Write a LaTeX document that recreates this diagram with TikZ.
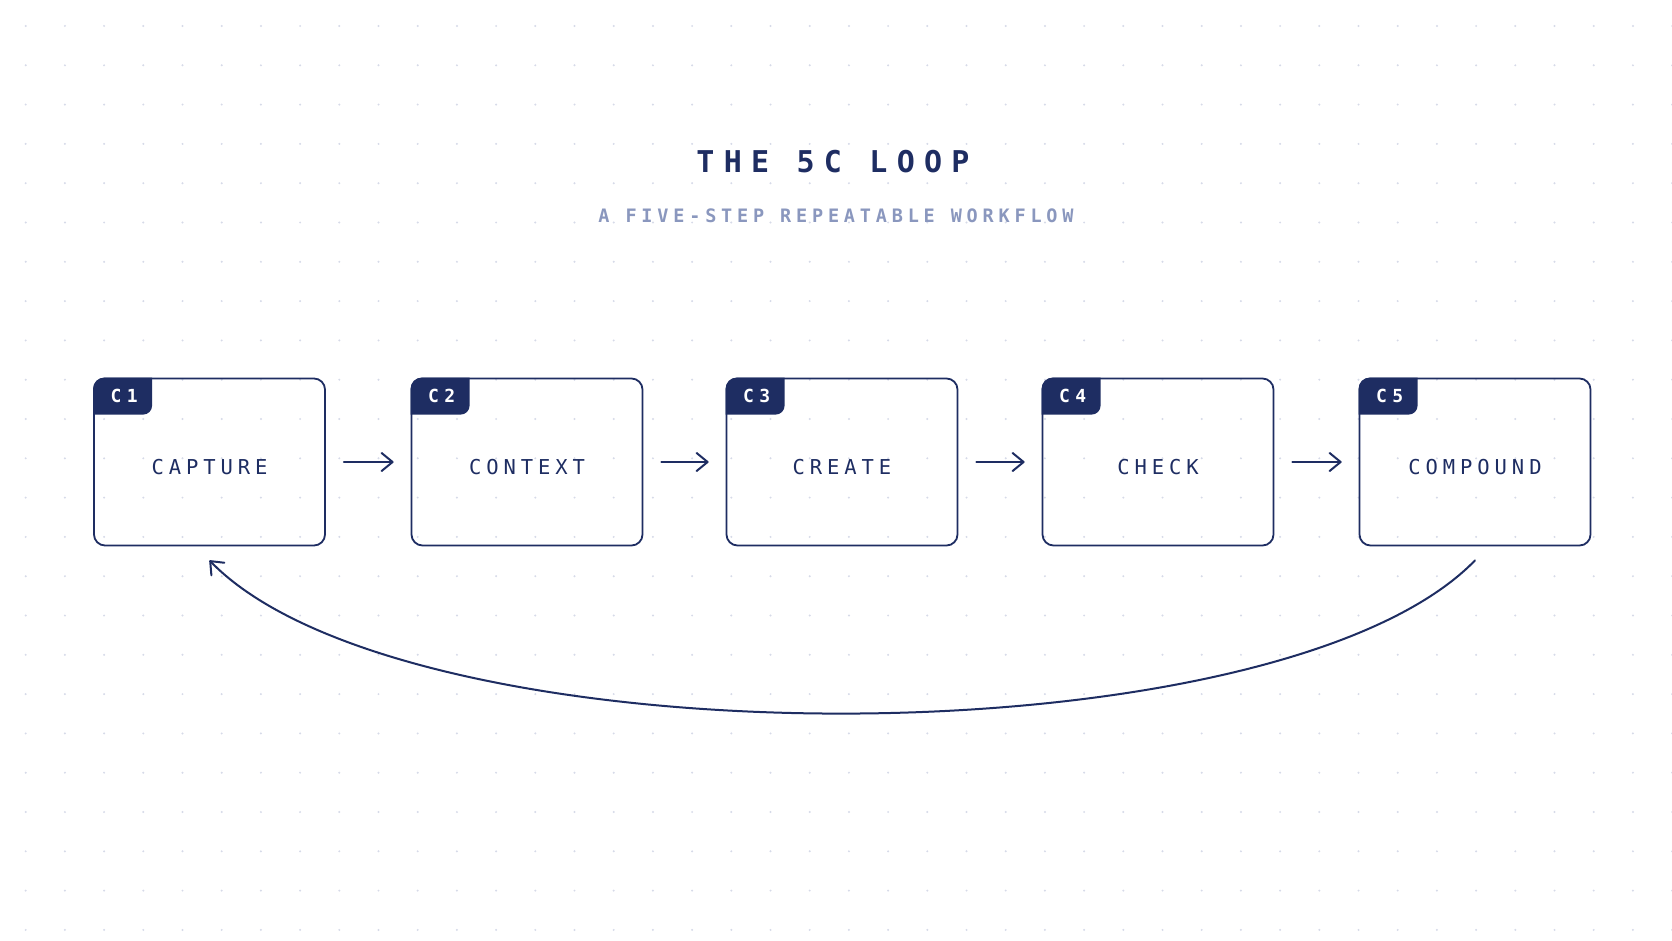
\documentclass[tikz,border=0pt]{standalone}
\usepackage{fontspec}
\usepackage{tikz}
\usetikzlibrary{arrows.meta,calc}
\setmonofont{DejaVu Sans Mono}
\newfontfamily\TitleMono[LetterSpace=31]{DejaVu Sans Mono}
\newfontfamily\SubMono[LetterSpace=26]{DejaVu Sans Mono}
\newfontfamily\CardMono[LetterSpace=24]{DejaVu Sans Mono}
\newfontfamily\TagMono[LetterSpace=30]{DejaVu Sans Mono}
\definecolor{Ink}{HTML}{1E2D62}
\definecolor{Mist}{HTML}{8A97BE}
\definecolor{Dot}{HTML}{D6DAE8}
\newcommand{\StepCard}[4]{%
  \node[card] (#1) at (#2,462) {#4};%
  \begin{scope}
    \clip[rounded corners=11pt] (#1.north west) rectangle (#1.south east);
    \fill[Ink,rounded corners=9pt] ([shift={(-20,-20)}]#1.north west) rectangle ++(79,57);
  \end{scope}
  \node[tagbox] (#1tag) at ([shift={(31,25)}]#1.north west) {#3};%
}

\begin{document}
\begin{tikzpicture}[x=1pt,y=-1pt,
  card/.style={draw=Ink,line width=1.8pt,rounded corners=11pt,minimum width=231pt,
    minimum height=167pt,inner sep=0pt,text=Ink,text height=24pt,text depth=0pt,
    font=\CardMono\fontsize{20.5}{24}\selectfont},
  tagbox/.style={anchor=base,inner sep=0pt,text=white,font=\TagMono\bfseries\fontsize{18}{20}\selectfont},
  flowarrow/.style={draw=Ink,line width=2pt,line cap=round,shorten <=18pt,shorten >=17pt,
    -{Straight Barb[length=11pt,width=18pt,round]}},
  loopline/.style={draw=Ink,line width=2pt,line cap=round,
    -{Straight Barb[length=11pt,width=18pt,round]}}]
\fill[white] (0,0) rectangle (1672,941);
\useasboundingbox (0,0) rectangle (1672,941);
\foreach \i in {0,...,42} {
  \foreach \j in {0,...,23} {
    \fill[Dot] (25.7+39.2*\i,26+39.3*\j) circle (1.1pt);
  }
}
\node[anchor=base,text=Ink,font=\TitleMono\bfseries\fontsize{30}{36}\selectfont] (title) at (833,173) {THE 5C LOOP};
\node[anchor=base,text=Mist,font=\SubMono\bfseries\fontsize{18.5}{22}\selectfont] (subtitle) at (836,223) {A FIVE-STEP REPEATABLE WORKFLOW};
\StepCard{c1}{209.5}{C1}{CAPTURE}
\StepCard{c2}{527}{C2}{CONTEXT}
\StepCard{c3}{842}{C3}{CREATE}
\StepCard{c4}{1158}{C4}{CHECK}
\StepCard{c5}{1475}{C5}{COMPOUND}
\foreach \a/\b in {c1/c2,c2/c3,c3/c4,c4/c5} {
  \draw[flowarrow] (\a.east) -- (\b.west);
}
\coordinate (loopout) at ([yshift=-14pt]c5.south);
\coordinate (loopin) at ([yshift=-14pt]c1.south);
\draw[loopline] (loopout) .. controls +(-198,204) and +(198,204) .. (loopin);
\end{tikzpicture}
\end{document}
